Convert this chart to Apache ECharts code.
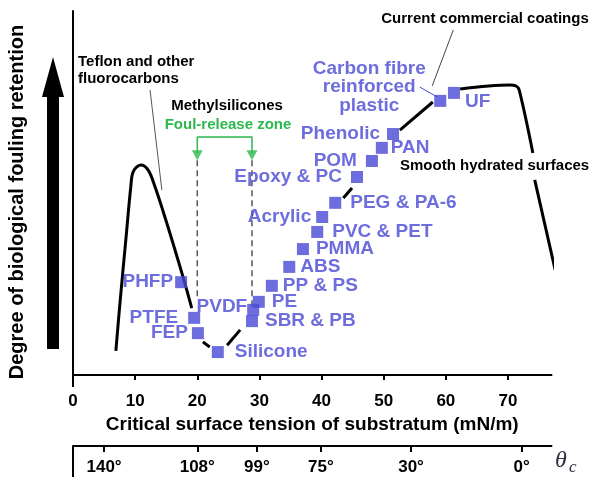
<!DOCTYPE html>
<html>
<head>
<meta charset="utf-8">
<script src="https://cdn.jsdelivr.net/npm/echarts@6/dist/echarts.min.js"></script>
<style>
  html, body { margin: 0; padding: 0; background: #fff; }
  #chart { width: 593px; height: 477px; }
</style>
</head>
<body>
<div id="chart"></div>
<script>
// materials (squares)
var materials = ['PHFP', 'PTFE', 'FEP', 'Silicone', 'SBR & PB', 'PVDF', 'PE', 'PP & PS', 'ABS', 'PMMA',
  'PVC & PET', 'Acrylic', 'PEG & PA-6', 'Epoxy & PC', 'POM', 'PAN', 'Phenolic',
  'Carbon fibre\nreinforced\nplastic', 'UF']
var tension = [17.4, 19.5, 20.1, 23.3, 28.8, 29.0, 29.9, 32.0, 34.8, 37.0,
  39.3, 40.1, 42.2, 45.7, 48.1, 49.7, 51.5, 59.1, 61.3]
var retention = [25.5, 15.7, 11.5, 6.3, 14.8, 17.9, 20.1, 24.5, 29.7, 34.6,
  39.3, 43.4, 47.3, 54.4, 58.8, 62.4, 66.2, 75.3, 77.5]

// black trend curve, drawn in pieces as in the picture
var curveSegments = [
  [[6.9, 6.6], [7.6, 20.6], [8.6, 39.0], [9.3, 51.7], [9.7, 55.9], [10.9, 57.7], [12.1, 56.3],
    [13.2, 51.7], [15.1, 41.7], [16.9, 31.6], [18.3, 23.4], [19.1, 18.4]],
  [[20.9, 9.1], [22.0, 7.7]],
  [[24.8, 8.2], [26.9, 12.4]],
  [[43.5, 48.6], [44.9, 51.4]],
  [[52.6, 67.3], [57.9, 75.0]],
  [[62.3, 78.6], [70.3, 79.7], [71.3, 79.4], [71.8, 78.3], [74.0, 61.0]],
  [[74.3, 53.6], [77.6, 28.8]]
]

// foul-release zone limits
var zoneLimits = [20, 28.8]
var zoneDashEnd = [21.4, 17.9]

// axis ticks
var tensionTicks = [0, 10, 20, 30, 40, 50, 60, 70]
var thetaPos = [5.0, 20, 29.6, 39.9, 54.4, 72.2]
var thetaLabels = ['140°', '108°', '99°', '75°', '30°', '0°']

var blue = '#4848d6'
var green = '#2db84d'
var font = "'Liberation Sans', Arial, sans-serif"

// label placement: side, distance, dy
var labelPlace = {
  'PHFP': ['left', 2, 0],
  'PTFE': ['left', 10, 0],
  'FEP': ['left', 4, 0],
  'Silicone': ['right', 11, 0],
  'SBR & PB': ['right', 7, 0],
  'PVDF': ['left', 0, -3],
  'PE': ['right', 7, 0],
  'PP & PS': ['right', 5, 0],
  'ABS': ['right', 5, 0],
  'PMMA': ['right', 7, 0],
  'PVC & PET': ['right', 9, 0],
  'Acrylic': ['left', 5, 0],
  'PEG & PA-6': ['right', 9, 0],
  'Epoxy & PC': ['left', 9, 0],
  'POM': ['left', 9, 0],
  'PAN': ['right', 3, 0],
  'Phenolic': ['left', 7, 0],
  'UF': ['right', 5, 9]
}

var squares = materials.map(function (name, i) {
  var item = { name: name, value: [tension[i], retention[i]] }
  var p = labelPlace[name]
  if (p) {
    item.label = { position: p[0], distance: p[1], offset: [0, p[2]] }
  } else {
    item.label = { position: 'inside', align: 'center', verticalAlign: 'middle', offset: [-71, -14], lineHeight: 18.5 }
  }
  return item
})

var series = []

curveSegments.forEach(function (seg) {
  series.push({
    type: 'line',
    data: seg,
    smooth: 0.35,
    symbol: 'none',
    clip: false,
    silent: true,
    lineStyle: { color: '#000', width: 3 },
    z: 2
  })
})

zoneLimits.forEach(function (x, i) {
  series.push({
    type: 'line',
    data: [[x, 59], [x, zoneDashEnd[i]]],
    symbol: 'none',
    silent: true,
    lineStyle: { color: '#555', width: 1.5, type: [6, 4] },
    z: 1
  })
})

// green bracket with arrows
series.push({
  type: 'line',
  data: [[zoneLimits[0], 61], [zoneLimits[0], 65.4], [zoneLimits[1], 65.4], [zoneLimits[1], 61]],
  symbol: 'none',
  silent: true,
  lineStyle: { color: green, width: 1.5 }
})
series.push({
  type: 'scatter',
  data: [[zoneLimits[0], 60.4], [zoneLimits[1], 60.4]],
  symbol: 'triangle',
  symbolSize: [11, 10],
  symbolRotate: 180,
  silent: true,
  itemStyle: { color: green }
})

// leader lines
var leaders = [
  { data: [[12.4, 78.3], [14.3, 50.8]], color: '#555' },
  { data: [[61.2, 94.8], [57.8, 79.4]], color: '#444' },
  { data: [[55.8, 79.1], [58.6, 76.4]], color: blue }
]
leaders.forEach(function (l) {
  series.push({
    type: 'line',
    data: l.data,
    symbol: 'none',
    silent: true,
    clip: false,
    lineStyle: { color: l.color, width: 1 }
  })
})

series.push({
  type: 'scatter',
  data: squares,
  symbol: 'rect',
  symbolSize: 12,
  itemStyle: { color: blue },
  label: {
    show: true,
    formatter: '{b}',
    color: blue,
    fontSize: 19,
    fontWeight: 'bold',
    fontFamily: font
  },
  z: 5
})

var myChart = echarts.init(document.getElementById('chart'))

var option = {
  animation: false,
  backgroundColor: '#fff',
  grid: { left: 73, top: 11, right: 41.5, bottom: 102, outerBoundsMode: 'none' },
  xAxis: [
    {
      type: 'value',
      min: 0,
      max: 77,
      name: 'Critical surface tension of substratum (mN/m)',
      nameLocation: 'middle',
      nameGap: 37,
      nameTextStyle: { color: '#000', fontSize: 19, fontWeight: 'bold', fontFamily: font },
      axisLine: { show: true, onZero: false, lineStyle: { color: '#000', width: 2 } },
      axisTick: { show: true, length: 5, customValues: tensionTicks, lineStyle: { color: '#000', width: 2 } },
      axisLabel: { customValues: tensionTicks, margin: 18, color: '#000', fontSize: 17, fontWeight: 'bold', fontFamily: font },
      splitLine: { show: false }
    },
    {
      type: 'value',
      min: 0,
      max: 77,
      position: 'bottom',
      offset: 71,
      axisLine: { show: true, onZero: false, lineStyle: { color: '#000', width: 2 } },
      axisTick: { show: true, length: 6, customValues: thetaPos, lineStyle: { color: '#000', width: 2 } },
      axisLabel: {
        customValues: thetaPos,
        margin: 13,
        color: '#000',
        fontSize: 17,
        fontWeight: 'bold',
        fontFamily: font,
        formatter: function (v) {
          var k = thetaPos.indexOf(v)
          return k >= 0 ? thetaLabels[k] : ''
        }
      },
      splitLine: { show: false }
    }
  ],
  yAxis: {
    type: 'value',
    min: 0,
    max: 100,
    axisLine: { show: true, lineStyle: { color: '#000', width: 2 } },
    axisTick: { show: false },
    axisLabel: { show: false },
    splitLine: { show: false }
  },
  graphic: [
    // big arrow
    {
      type: 'polygon',
      shape: { points: [[47, 349], [59, 349], [59, 97], [64, 97], [53, 57], [42, 97], [47, 97]] },
      style: { fill: '#000' }
    },
    // axis stubs
    { type: 'line', shape: { x1: 73, y1: 375, x2: 73, y2: 387 }, style: { stroke: '#000', lineWidth: 2 } },
    { type: 'line', shape: { x1: 73, y1: 446, x2: 73, y2: 477 }, style: { stroke: '#000', lineWidth: 2 } },
    {
      type: 'text',
      x: 17,
      y: 202,
      rotation: Math.PI / 2,
      style: {
        text: 'Degree of biological fouling retention',
        fill: '#000',
        font: 'bold 20px ' + font,
        align: 'center',
        verticalAlign: 'middle'
      }
    },
    {
      type: 'text',
      x: 78,
      y: 70.5,
      style: {
        text: 'Teflon and other\nfluorocarbons',
        fill: '#000',
        font: 'bold 15px ' + font,
        lineHeight: 17,
        align: 'left',
        verticalAlign: 'middle'
      }
    },
    {
      type: 'text',
      x: 227,
      y: 106,
      style: { text: 'Methylsilicones', fill: '#000', font: 'bold 15px ' + font, align: 'center', verticalAlign: 'middle' }
    },
    {
      type: 'text',
      x: 228,
      y: 125,
      style: { text: 'Foul-release zone', fill: green, font: 'bold 15px ' + font, align: 'center', verticalAlign: 'middle' }
    },
    {
      type: 'text',
      x: 485,
      y: 19,
      style: { text: 'Current commercial coatings', fill: '#000', font: 'bold 15px ' + font, align: 'center', verticalAlign: 'middle' }
    },
    {
      type: 'text',
      x: 400,
      y: 166,
      style: { text: 'Smooth hydrated surfaces', fill: '#000', font: 'bold 15px ' + font, align: 'left', verticalAlign: 'middle' }
    },
    {
      type: 'text',
      x: 555,
      y: 461,
      style: { text: 'θ', fill: '#2b3245', font: 'italic 24px "Liberation Serif", "DejaVu Serif", serif', align: 'left', verticalAlign: 'middle' }
    },
    {
      type: 'text',
      x: 569,
      y: 468,
      style: { text: 'c', fill: '#2b3245', font: 'italic 17px "Liberation Serif", "DejaVu Serif", serif', align: 'left', verticalAlign: 'middle' }
    }
  ],
  series: series
}

myChart.setOption(option)
</script>
</body>
</html>
